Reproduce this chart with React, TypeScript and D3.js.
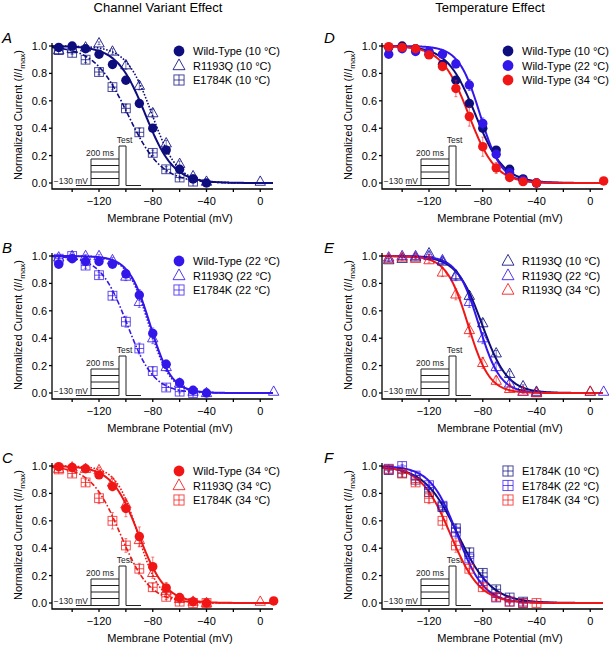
import React, { useEffect } from 'react';
import * as d3 from 'd3';

// ---------- data ----------
const VOLTAGES = [-150, -140, -130, -120, -110, -100, -90, -80, -70, -60, -50, -40];

const WT_10 = [0.99, 1.0, 0.98, 0.94, 0.865, 0.75, 0.58, 0.40, 0.24, 0.10, 0.03, 0.0];
const WT_22 = [0.94, 0.98, 0.96, 0.96, 0.94, 0.87, 0.715, 0.435, 0.21, 0.075, 0.02, 0.0];
const WT_34 = [0.995, 0.99, 0.98, 0.935, 0.85, 0.69, 0.485, 0.265, 0.11, 0.04, 0.01, 0.0];
const R_10 = [0.97, 0.98, 0.99, 1.02, 0.96, 0.86, 0.71, 0.51, 0.29, 0.14, 0.05, 0.01];
const R_22 = [0.99, 1.0, 1.0, 1.0, 0.97, 0.85, 0.665, 0.40, 0.19, 0.07, 0.01, 0.0];
const R_34 = [0.98, 0.99, 0.98, 0.97, 0.88, 0.72, 0.46, 0.22, 0.09, 0.03, 0.01, 0.0];
const E_10 = [0.97, 0.95, 0.90, 0.81, 0.70, 0.545, 0.37, 0.22, 0.10, 0.04, 0.01];
const E_22 = [0.98, 1.0, 0.93, 0.86, 0.71, 0.52, 0.325, 0.16, 0.04, 0.01, 0.0];
const E_34 = [0.975, 0.945, 0.88, 0.765, 0.60, 0.42, 0.25, 0.115, 0.045, 0.01, 0.0, 0.0];

const WT_10_ERR = [0.01, 0.01, 0.01, 0.01, 0.02, 0.02, 0.02, 0.02, 0.02, 0.01, 0.01, 0.0];
const WT_22_ERR = [0.02, 0.01, 0.02, 0.02, 0.02, 0.03, 0.04, 0.04, 0.03, 0.02, 0.01, 0.0];
const WT_34_ERR = [0.01, 0.01, 0.02, 0.02, 0.03, 0.06, 0.07, 0.07, 0.04, 0.02, 0.01, 0.0];
const R_10_ERR = [0.01, 0.01, 0.01, 0.01, 0.02, 0.03, 0.03, 0.03, 0.02, 0.02, 0.01, 0.0];
const R_22_ERR = [0.01, 0.01, 0.01, 0.01, 0.02, 0.03, 0.04, 0.04, 0.03, 0.02, 0.01, 0.0];
const R_34_ERR = [0.01, 0.01, 0.01, 0.02, 0.03, 0.04, 0.05, 0.04, 0.03, 0.02, 0.01, 0.0];
const E_10_ERR = [0.01, 0.01, 0.02, 0.02, 0.02, 0.03, 0.03, 0.02, 0.02, 0.01, 0.01];
const E_22_ERR = [0.01, 0.01, 0.02, 0.02, 0.03, 0.04, 0.04, 0.03, 0.02, 0.01, 0.0];
const E_34_ERR = [0.01, 0.02, 0.02, 0.04, 0.06, 0.05, 0.04, 0.03, 0.02, 0.01, 0.01, 0.0];

// Boltzmann fit parameters [V1/2 (mV), slope k (mV)]
const FIT_WT_10 = [-85.5, 10.5];
const FIT_WT_22 = [-82, 8];
const FIT_WT_34 = [-90.5, 10];
const FIT_R_10 = [-80.5, 9.5];
const FIT_R_22 = [-83, 8];
const FIT_R_34 = [-91, 8];
const FIT_E_10 = [-98.5, 12.5];
const FIT_E_22 = [-99, 10];
const FIT_E_34 = [-104, 11];

const X_TICKS = [-120, -80, -40, 0];
const X_MINOR = [-140, -100, -60, -20];
const Y_TICKS = [0, 0.2, 0.4, 0.6, 0.8, 1.0];
const X_DOMAIN = [-155, 9.5];

const COL_TITLES = ['Channel Variant Effect', 'Temperature Effect'];

const COLORS: Record<number, string> = { 10: '#0d0d7e', 22: '#3316ea', 34: '#f01616' };

type Shape = 'circle' | 'triangle' | 'square';
interface Series {
  name: string; temp: number; shape: Shape; dash: string;
  v: number[]; y: number[]; err: number[]; fit: number[];
}

const mk = (name: string, temp: number, shape: Shape, y: number[], err: number[], fit: number[], extra?: [number, number]): Series => {
  const v = VOLTAGES.slice(0, y.length);
  const yy = y.slice();
  const ee = err.slice();
  if (extra) { v.push(extra[0]); yy.push(extra[1]); ee.push(0); }
  return { name, temp, shape, dash: '', v, y: yy, err: ee, fit };
};

const S = {
  WT10: mk('Wild-Type', 10, 'circle', WT_10, WT_10_ERR, FIT_WT_10),
  WT22: mk('Wild-Type', 22, 'circle', WT_22, WT_22_ERR, FIT_WT_22),
  WT34: mk('Wild-Type', 34, 'circle', WT_34, WT_34_ERR, FIT_WT_34, [10, 0.015]),
  R10: mk('R1193Q', 10, 'triangle', R_10, R_10_ERR, FIT_R_10, [0, 0.01]),
  R22: mk('R1193Q', 22, 'triangle', R_22, R_22_ERR, FIT_R_22, [10, 0.01]),
  R34: mk('R1193Q', 34, 'triangle', R_34, R_34_ERR, FIT_R_34, [0, 0.01]),
  E10: mk('E1784K', 10, 'square', E_10, E_10_ERR, FIT_E_10),
  E22: mk('E1784K', 22, 'square', E_22, E_22_ERR, FIT_E_22),
  E34: mk('E1784K', 34, 'square', E_34, E_34_ERR, FIT_E_34),
};

const PANELS = [
  { letter: 'A', col: 0, row: 0, series: ['E10', 'R10', 'WT10'], legend: ['WT10', 'R10', 'E10'], styled: true },
  { letter: 'B', col: 0, row: 1, series: ['E22', 'R22', 'WT22'], legend: ['WT22', 'R22', 'E22'], styled: true },
  { letter: 'C', col: 0, row: 2, series: ['E34', 'R34', 'WT34'], legend: ['WT34', 'R34', 'E34'], styled: true },
  { letter: 'D', col: 1, row: 0, series: ['WT10', 'WT22', 'WT34'], legend: ['WT10', 'WT22', 'WT34'], styled: false },
  { letter: 'E', col: 1, row: 1, series: ['R10', 'R22', 'R34'], legend: ['R10', 'R22', 'R34'], styled: false },
  { letter: 'F', col: 1, row: 2, series: ['E10', 'E22', 'E34'], legend: ['E10', 'E22', 'E34'], styled: false },
];

// ---------- layout ----------
const W = 609, H = 645;
const COL_X = [52, 382];
const ROW_Y0 = [183, 393, 603];
const PW = 221;
const FONT = '"Liberation Sans", Arial, Helvetica, sans-serif';
const DASH: Record<Shape, string> = { circle: '', triangle: '1.6,1.6', square: '5,2,1.6,2' };

function Marker({ shape, x, y, color, scale = 1 }: { shape: Shape; x: number; y: number; color: string; scale?: number }) {
  if (shape === 'circle') return <circle cx={x} cy={y} r={4.7 * scale} fill={color} />;
  if (shape === 'triangle') {
    const s = 5.2 * scale;
    const p = `M${x},${y - s * 1.1}L${x + s},${y + s * 0.7}L${x - s},${y + s * 0.7}Z`;
    return <path d={p} fill="none" stroke={color} strokeWidth={1} strokeOpacity={0.85} />;
  }
  const h = 4.4 * scale;
  return (
    <g stroke={color} strokeWidth={1} fill="none" strokeOpacity={0.75}>
      <rect x={x - h} y={y - h} width={2 * h} height={2 * h} />
      <line x1={x - h} x2={x + h} y1={y} y2={y} />
      <line x1={x} x2={x} y1={y - h} y2={y + h} />
    </g>
  );
}

function Panel({ p }: { p: typeof PANELS[number] }) {
  const x0 = COL_X[p.col];
  const y0 = ROW_Y0[p.row];
  const xs = d3.scaleLinear().domain(X_DOMAIN).range([x0, x0 + PW]);
  const ys = d3.scaleLinear().domain([0, 1]).range([y0, y0 - 137]);
  const axisY = y0 + 6;
  const topY = ys(1.022);
  const grid = d3.range(X_DOMAIN[0], X_DOMAIN[1] + 0.01, 0.5);
  const line = d3.line<number>().x(v => xs(v)).y(v => v);
  const clipId = `clip-${p.letter}`;
  const legX = p.col === 0 ? x0 + 127 : x0 + 126;
  const legY = y0 - 132;
  return (
    <g>
      <defs>
        <clipPath id={clipId}>
          <rect x={x0} y={topY - 8} width={PW} height={axisY - topY + 8} />
        </clipPath>
      </defs>
      {/* panel letter */}
      <text x={x0 - 50 + (p.col === 1 ? -8 : 0)} y={y0 - 140} fontSize={15} fontStyle="italic" fontFamily={FONT}>{p.letter}</text>
      {/* inset protocol */}
      <g stroke="#222" strokeWidth={1} fill="none">
        <path d={`M${x0 + 24},${y0 + 2.5}H${x0 + 39}`} />
        {[-24, -17.5, -11, -4.5, 2.5].map((dy, i) => (
          <path key={i} d={`M${x0 + 39},${y0 + dy}H${x0 + 67}`} />
        ))}
        <path d={`M${x0 + 39},${y0 - 24}V${y0 + 2.5}`} />
        <path d={`M${x0 + 67},${y0 + 2.5}V${y0 - 37}H${x0 + 74}V${y0 + 2.5}H${x0 + 89}`} />
      </g>
      <g fontFamily={FONT} fontSize={8.5} fill="#222">
        <text x={x0 + 36} y={y0 + 0.5} textAnchor="end">−130 mV</text>
        <text x={x0 + 48} y={y0 - 27} textAnchor="middle">200 ms</text>
        <text x={x0 + 72.5} y={y0 - 40} textAnchor="middle">Test</text>
      </g>
      {/* curves */}
      <g clipPath={`url(#${clipId})`}>
        {p.series.map(k => {
          const s = (S as any)[k] as Series;
          const pts: [number, number][] = grid.map(v => [xs(v), ys(1 / (1 + Math.exp((v - s.fit[0]) / s.fit[1])))]);
          const d = d3.line()(pts) as string;
          return (
            <path key={k} d={d} fill="none" stroke={COLORS[s.temp]} strokeWidth={p.styled ? (s.shape === 'circle' ? 2 : 1.6) : 2}
              strokeDasharray={p.styled ? DASH[s.shape] : undefined} />
          );
        })}
      </g>
      {/* error bars + markers */}
      {p.series.map(k => {
        const s = (S as any)[k] as Series;
        const c = COLORS[s.temp];
        return (
          <g key={k}>
            {s.v.map((v, i) => s.err[i] > 0.005 ? (
              <g key={i} stroke={c} strokeWidth={0.8} strokeOpacity={0.7}>
                <line x1={xs(v)} x2={xs(v)} y1={ys(s.y[i] - s.err[i])} y2={ys(s.y[i] + s.err[i])} />
                <line x1={xs(v) - 1.5} x2={xs(v) + 1.5} y1={ys(s.y[i] - s.err[i])} y2={ys(s.y[i] - s.err[i])} />
                <line x1={xs(v) - 1.5} x2={xs(v) + 1.5} y1={ys(s.y[i] + s.err[i])} y2={ys(s.y[i] + s.err[i])} />
              </g>
            ) : null)}
            {s.v.map((v, i) => <Marker key={i} shape={s.shape} x={xs(v)} y={ys(s.y[i])} color={c} />)}
          </g>
        );
      })}
      {/* axes */}
      <g stroke="#000" strokeWidth={1.3} fill="none">
        <path d={`M${x0},${topY}V${axisY}H${x0 + PW}`} />
        {Y_TICKS.map(t => <path key={t} d={`M${x0 - 3},${ys(t)}H${x0}`} />)}
        {X_TICKS.concat(X_MINOR).map(t => <path key={t} d={`M${xs(t)},${axisY}V${axisY + 3}`} />)}
      </g>
      <g fontFamily={FONT} fontSize={11} fill="#000">
        {Y_TICKS.map(t => <text key={t} x={x0 - 5} y={ys(t) + 4} textAnchor="end">{t.toFixed(1)}</text>)}
        {X_TICKS.map(t => <text key={t} x={xs(t)} y={axisY + 16} textAnchor="middle">{t < 0 ? `−${Math.abs(t)}` : `${t}`}</text>)}
        <text x={x0 + 118} y={axisY + 33} textAnchor="middle">Membrane Potential (mV)</text>
        <text transform={`translate(${x0 - 30},${y0 - 68}) rotate(-90)`} textAnchor="middle">
          Normalized Current (<tspan fontStyle="italic">I</tspan>/<tspan fontStyle="italic">I</tspan>
          <tspan fontSize={8} dy={3}>max</tspan><tspan dy={-3}>)</tspan>
        </text>
      </g>
      {/* legend */}
      {p.legend.map((k, i) => {
        const s = (S as any)[k] as Series;
        const ly = legY + i * 14.5;
        return (
          <g key={k}>
            <Marker shape={s.shape} x={legX} y={ly} color={COLORS[s.temp]} scale={1.15} />
            <text x={legX + 14} y={ly + 4} fontSize={11} fontFamily={FONT}>{`${s.name} (${s.temp} °C)`}</text>
          </g>
        );
      })}
    </g>
  );
}

export default function App() {
  useEffect(() => { document.body.style.margin = '0'; }, []);
  return (
    <svg width={W} height={H} viewBox={`0 0 ${W} ${H}`} style={{ display: 'block', background: '#fff' }}>
      <rect width={W} height={H} fill="#fff" />
      <text x={158} y={12} textAnchor="middle" fontSize={13} fontFamily={FONT}>{COL_TITLES[0]}</text>
      <text x={490} y={12} textAnchor="middle" fontSize={13} fontFamily={FONT}>{COL_TITLES[1]}</text>
      {PANELS.map(p => <Panel key={p.letter} p={p} />)}
    </svg>
  );
}
